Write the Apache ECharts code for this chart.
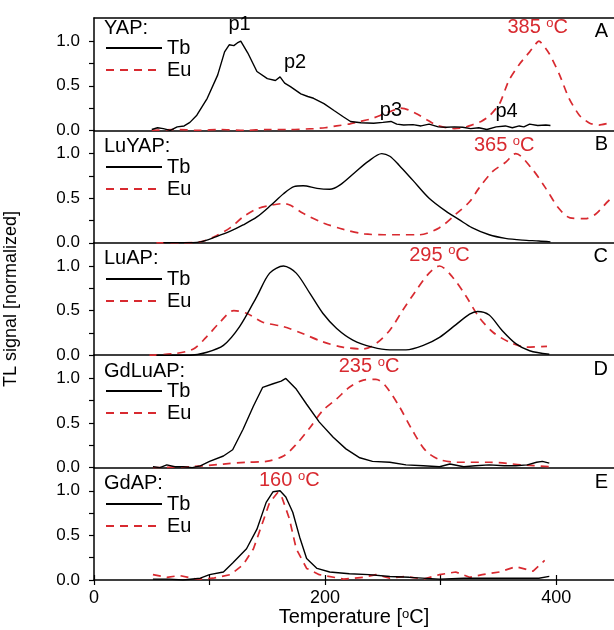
<!DOCTYPE html>
<html>
<head>
<meta charset="utf-8">
<script src="https://cdn.jsdelivr.net/npm/echarts@6/dist/echarts.min.js"></script>
<style>
html,body{margin:0;padding:0;background:#fff;}
#c{width:614px;height:630px;}
</style>
</head>
<body>
<div id="c"></div>
<script>
// ---------- DATA ----------
const panelNames = ['YAP:', 'LuYAP:', 'LuAP:', 'GdLuAP:', 'GdAP:'];
const panelLetters = ['A', 'B', 'C', 'D', 'E'];
const seriesNames = ['Tb', 'Eu'];
const xTickValues = [0, 100, 200, 300, 400];
const xLabelValues = [0, 200, 400];
const yTickValues = [0, 0.25, 0.5, 0.75, 1.0];
const yLabelValues = [0, 0.5, 1.0];

// peak annotations
const peakTemps = [385, 365, 295, 235, 160];
const peakLabelX = [384, 355, 299, 238, 169];
const peakLabelY = [1.15, 1.09, 1.12, 1.13, 1.11];

// YAP peak labels
const yapPeakNames = ['p1', 'p2', 'p3', 'p4'];
const yapPeakX = [126, 174, 257, 357];
const yapPeakY = [1.19, 0.76, 0.22, 0.21];

// A: YAP
const yapTbT = [50,55,60,66,72,78,83,89,98,107,113,117,121,124,127,133,141,150,157,161,165,170,179,185,190,199,208,216,222,231,242,250,257,262,268,276,283,290,298,305,312,319,326,333,340,348,356,362,368,372,377,384,391,395];
const yapTbV = [0.01,0.03,0.02,0.0,0.04,0.05,0.09,0.17,0.36,0.62,0.88,0.96,0.95,0.98,1.0,0.87,0.66,0.58,0.56,0.6,0.53,0.49,0.41,0.38,0.36,0.3,0.22,0.15,0.1,0.085,0.08,0.09,0.1,0.07,0.06,0.065,0.05,0.07,0.04,0.035,0.04,0.035,0.02,0.03,0.01,0.04,0.05,0.03,0.05,0.04,0.07,0.055,0.06,0.055];
const yapEuT = [50,70,90,110,130,150,170,190,200,210,220,230,240,250,258,265,272,280,288,296,305,312,320,327,335,342,351,359,368,377,385,394,403,411,420,429,437,445];
const yapEuV = [0,0.01,0,0.01,0,0.01,0.01,0.02,0.03,0.05,0.07,0.1,0.13,0.18,0.22,0.25,0.23,0.18,0.12,0.06,0.03,0.02,0.03,0.06,0.1,0.16,0.3,0.56,0.74,0.88,1.0,0.86,0.62,0.36,0.17,0.08,0.06,0.08];

// B: LuYAP
const luyapTbT = [60,75,92,106,118,129,141,153,164,173,181,193,204,213,225,237,249,256,264,276,290,305,316,327,342,356,371,385,395];
const luyapTbV = [0,0,0.01,0.07,0.13,0.2,0.29,0.42,0.55,0.63,0.64,0.61,0.6,0.65,0.78,0.91,1.0,0.97,0.87,0.7,0.5,0.35,0.26,0.17,0.09,0.05,0.03,0.02,0.01];
const luyapEuT = [54,75,92,106,118,129,141,153,164,170,181,199,216,234,251,264,281,299,313,325,333,345,356,365,379,391,402,412,425,434,446,452];
const luyapEuV = [0,0,0.01,0.08,0.17,0.29,0.38,0.42,0.44,0.42,0.33,0.22,0.15,0.1,0.09,0.09,0.09,0.17,0.32,0.46,0.61,0.8,0.9,1.0,0.83,0.61,0.39,0.28,0.27,0.32,0.48,0.52];

// C: LuAP
const luapTbT = [54,70,83,97,112,126,141,152,164,175,187,198,210,224,241,256,270,285,299,313,325,332,342,353,365,377,394];
const luapTbV = [0,0,0,0.03,0.11,0.32,0.66,0.92,1.0,0.92,0.69,0.47,0.3,0.17,0.09,0.06,0.06,0.11,0.2,0.34,0.46,0.49,0.45,0.28,0.13,0.05,0.01];
const luapEuT = [48,71,86,97,109,121,132,146,164,181,198,215,233,244,256,267,279,290,299,310,322,333,345,359,374,392];
const luapEuV = [0,0.02,0.07,0.2,0.37,0.5,0.47,0.37,0.32,0.24,0.15,0.09,0.07,0.13,0.28,0.5,0.73,0.92,1.0,0.88,0.66,0.43,0.26,0.15,0.09,0.1];

// D: GdLuAP
const gdluapTbT = [51,57,63,70,77,85,92,100,112,120,129,138,146,155,162,166,175,184,195,207,218,230,241,256,270,285,299,308,320,330,342,355,365,375,383,388,394];
const gdluapTbV = [0.01,0.0,0.03,0.01,0.01,0.0,0.02,0.07,0.13,0.2,0.43,0.69,0.9,0.94,0.97,1.0,0.88,0.71,0.51,0.34,0.21,0.11,0.07,0.06,0.03,0.02,0.01,0.04,0.01,0.02,0.03,0.02,0.02,0.03,0.06,0.07,0.05];
const gdluapEuT = [51,83,112,132,149,164,175,187,198,210,221,233,244,252,264,275,287,299,314,342,371,394];
const gdluapEuV = [0,0.01,0.04,0.06,0.07,0.13,0.26,0.45,0.64,0.77,0.9,0.98,0.99,0.92,0.69,0.43,0.19,0.09,0.06,0.06,0.03,0.01];

// E: GdAP
const gdapTbT = [51,65,77,92,100,112,120,132,141,149,155,161,166,172,178,184,193,204,221,238,256,273,299,320,342,371,385,394];
const gdapTbV = [0.01,0.01,0,0.02,0.06,0.09,0.19,0.35,0.57,0.87,0.99,1.0,0.93,0.76,0.48,0.24,0.13,0.09,0.07,0.06,0.04,0.03,0.01,0.02,0.02,0.02,0.02,0.04];
const gdapEuT = [51,63,74,89,103,118,129,138,145,152,159,162,169,175,184,195,216,233,244,256,270,285,299,313,325,336,351,365,380,390];
const gdapEuV = [0.06,0.03,0.05,0.01,0.02,0.06,0.17,0.35,0.61,0.87,0.98,0.95,0.69,0.35,0.13,0.06,0.01,0.03,0.06,0.02,0.04,0.01,0.06,0.09,0.03,0.06,0.09,0.15,0.1,0.22];

const tbSets = [[yapTbT, yapTbV], [luyapTbT, luyapTbV], [luapTbT, luapTbV], [gdluapTbT, gdluapTbV], [gdapTbT, gdapTbV]];
const euSets = [[yapEuT, yapEuV], [luyapEuT, luyapEuV], [luapEuT, luapEuV], [gdluapEuT, gdluapEuV], [gdapEuT, gdapEuV]];
const tbSmooth = [false, 0.3, 0.3, false, false];
const euSmooth = [0.2, 0.3, 0.3, 0.3, false];

// ---------- LAYOUT / STYLE ----------
const FONT = 'Liberation Sans, Arial, sans-serif';
const RED = '#d82a30';
const LEFT = 94;
const TOP0 = 18;
const PH = 112.4;
const N = 5;
const TXT = 20;
const nameCenterOff = [10, 16.5, 16, 16, 16];
const letterCenterOff = [13, 14.5, 13.5, 14.5, 14.5];
const legendTopOff = [20, 26.6, 26.2, 25.8, 26.4];

const pairs = (xs, ys) => xs.map((x, i) => [x, ys[i]]);

const grid = [], xAxis = [], yAxis = [], series = [], title = [], legend = [];

for (let i = 0; i < N; i++) {
  const top = TOP0 + i * PH;
  grid.push({ left: LEFT, right: 0, top: top, height: PH, outerBoundsMode: 'none', containLabel: false });
  const last = i === N - 1;
  xAxis.push({
    type: 'value', gridIndex: i, min: 0, max: 450, position: 'bottom',
    axisLine: { show: true, onZero: false, lineStyle: { color: '#000', width: 1.5 } },
    axisTick: { show: last, customValues: xTickValues, length: 5, lineStyle: { color: '#000', width: 1.2 } },
    axisLabel: { show: last, customValues: xLabelValues, margin: 9, fontSize: 18, color: '#000', fontFamily: FONT },
    splitLine: { show: false },
    name: last ? 'Temperature [{s|o}C]' : '',
    nameLocation: 'middle', nameGap: 24,
    nameTextStyle: { fontSize: 20, color: '#000', fontFamily: FONT, verticalAlign: 'top',
      rich: { s: { fontSize: 13, verticalAlign: 'top', color: '#000', fontFamily: FONT } } }
  });
  yAxis.push({
    type: 'value', gridIndex: i, min: 0, max: 1.26,
    axisLine: { show: true, lineStyle: { color: '#000', width: 1.5 } },
    axisTick: { show: true, customValues: yTickValues, length: 5, lineStyle: { color: '#000', width: 1.2 } },
    axisLabel: { show: true, customValues: yLabelValues, margin: 14, fontSize: 17, color: '#000', fontFamily: FONT,
      formatter: v => v.toFixed(1) },
    splitLine: { show: false },
    name: i === 2 ? 'TL signal [normalized]' : '',
    nameLocation: 'middle', nameGap: 74,
    nameTextStyle: { fontSize: 18, color: '#000', fontFamily: FONT }
  });

  const ann = {
    symbol: 'rect', symbolSize: [1, 1], silent: true,
    itemStyle: { color: 'rgba(0,0,0,0)' },
    label: { show: true, position: 'inside', color: RED, fontFamily: FONT,
      formatter: '{a|' + peakTemps[i] + ' }{s|o}{a|C}',
      rich: { a: { fontSize: TXT, color: RED, fontFamily: FONT, lineHeight: 22 },
              s: { fontSize: 13, color: RED, fontFamily: FONT, verticalAlign: 'top', lineHeight: 13 } } },
    data: [{ coord: [peakLabelX[i], peakLabelY[i]] }]
  };

  series.push({
    name: seriesNames[0], type: 'line', xAxisIndex: i, yAxisIndex: i,
    data: pairs(tbSets[i][0], tbSets[i][1]), showSymbol: false, symbol: 'none',
    smooth: tbSmooth[i], clip: true,
    lineStyle: { color: '#000', width: 1.4 }, itemStyle: { color: '#000' },
    markPoint: i === 0 ? {
      symbol: 'rect', symbolSize: [1, 1], silent: true,
      itemStyle: { color: 'rgba(0,0,0,0)' },
      label: { show: true, position: 'inside', fontSize: TXT, color: '#000', fontFamily: FONT, formatter: p => p.name },
      data: yapPeakNames.map((n, k) => ({ name: n, coord: [yapPeakX[k], yapPeakY[k]] }))
    } : undefined,
    z: 3
  });
  series.push({
    name: seriesNames[1], type: 'line', xAxisIndex: i, yAxisIndex: i,
    data: pairs(euSets[i][0], euSets[i][1]), showSymbol: false, symbol: 'none',
    smooth: euSmooth[i], clip: true,
    lineStyle: { color: RED, width: 1.7, type: [8, 6] }, itemStyle: { color: RED },
    markPoint: ann,
    z: 2
  });

  title.push({
    text: panelNames[i], left: 104, top: top + nameCenterOff[i] - 11, padding: 0,
    textStyle: { fontSize: TXT, fontWeight: 'normal', color: '#000', fontFamily: FONT, lineHeight: 22 }
  });
  title.push({
    text: panelLetters[i], right: 6, top: top + letterCenterOff[i] - 11, padding: 0,
    textStyle: { fontSize: TXT, fontWeight: 'normal', color: '#000', fontFamily: FONT, lineHeight: 22 }
  });
  legend.push({
    orient: 'vertical', left: 105, top: top + legendTopOff[i], padding: 0,
    itemWidth: 56, itemHeight: 14, itemGap: 2,
    selectedMode: false,
    itemStyle: { opacity: 0 },
    data: seriesNames,
    textStyle: { fontSize: TXT, color: '#000', fontFamily: FONT, lineHeight: 20, padding: 0 }
  });
}
// top frame line
xAxis.push({
  type: 'value', gridIndex: 0, min: 0, max: 450, position: 'top',
  axisLine: { show: true, onZero: false, lineStyle: { color: '#000', width: 1.5 } },
  axisTick: { show: false }, axisLabel: { show: false }, splitLine: { show: false }
});
// inward ticks on bottom axis
xAxis.push({
  type: 'value', gridIndex: N - 1, min: 0, max: 450, position: 'bottom',
  axisLine: { show: false, onZero: false },
  axisTick: { show: true, inside: true, customValues: xTickValues, length: 5, lineStyle: { color: '#000', width: 1.2 } },
  axisLabel: { show: false }, splitLine: { show: false }
});

const chart = echarts.init(document.getElementById('c'), null, { renderer: 'canvas' });
chart.setOption({
  animation: false,
  backgroundColor: '#fff',
  textStyle: { fontFamily: FONT },
  grid, xAxis, yAxis, series, title, legend
});
</script>
</body>
</html>
